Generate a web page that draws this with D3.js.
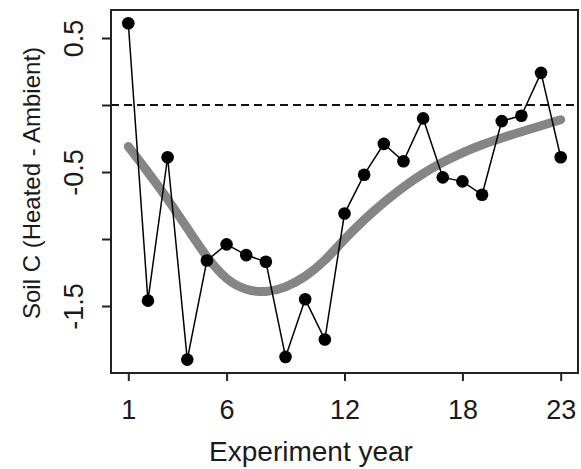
<!DOCTYPE html>
<html>
<head>
<meta charset="utf-8">
<script src="https://cdn.jsdelivr.net/npm/d3@7"></script>
<style>
  html, body { margin: 0; padding: 0; background: #fff; }
  svg { display: block; }
  text { font-family: "Liberation Sans", Arial, Helvetica, sans-serif; fill: #1a1a1a; }
</style>
</head>
<body>
<svg id="chart" width="581" height="469"></svg>
<script>
// ---- data ----
const years = [1,2,3,4,5,6,7,8,9,10,11,12,13,14,15,16,17,18,19,20,21,22,23];
const soilC = [0.61,-1.46,-0.39,-1.90,-1.16,-1.04,-1.12,-1.17,-1.88,-1.45,-1.75,-0.81,-0.52,-0.29,-0.42,-0.10,-0.54,-0.57,-0.67,-0.12,-0.08,0.24,-0.39];
const trend = [-0.31,-0.50,-0.70,-0.92,-1.14,-1.31,-1.385,-1.40,-1.365,-1.285,-1.165,-1.00,-0.855,-0.725,-0.61,-0.51,-0.425,-0.355,-0.295,-0.245,-0.20,-0.155,-0.11];
const xTicks = [1, 6, 12, 18, 23];
const yTicks = [0.5, 0, -0.5, -1, -1.5];
const yTickLabels = ["0.5", "", "-0.5", "", "-1.5"];
const xTitle = "Experiment year";
const yTitle = "Soil C (Heated - Ambient)";

// ---- layout ----
const L = 111, R = 578, T = 10, B = 373;
const svg = d3.select("#chart");
const x = d3.scaleLinear().domain([0.12, 23.88]).range([L, R]);
const y = d3.scaleLinear().domain([-2.0, 0.709]).range([B, T]);

// zero reference line
svg.append("line")
  .attr("x1", L).attr("x2", R)
  .attr("y1", y(0)).attr("y2", y(0))
  .attr("stroke", "#111").attr("stroke-width", 2)
  .attr("stroke-dasharray", "8,5");

// smooth trend (grey)
svg.append("path")
  .datum(years.map((d, i) => [d, trend[i]]))
  .attr("fill", "none")
  .attr("stroke", "#858585")
  .attr("stroke-width", 9)
  .attr("stroke-linecap", "round")
  .attr("d", d3.line().x(d => x(d[0])).y(d => y(d[1])).curve(d3.curveBasis));

// observed series
const obs = years.map((d, i) => [d, soilC[i]]);
svg.append("path")
  .datum(obs)
  .attr("fill", "none")
  .attr("stroke", "#000")
  .attr("stroke-width", 1.5)
  .attr("d", d3.line().x(d => x(d[0])).y(d => y(d[1])));
svg.selectAll("circle.pt").data(obs).enter().append("circle")
  .attr("class", "pt")
  .attr("cx", d => x(d[0])).attr("cy", d => y(d[1]))
  .attr("r", 6.3).attr("fill", "#000");

// axes
const xAxis = d3.axisBottom(x).tickValues(xTicks).tickSize(8).tickSizeOuter(0).tickPadding(8);
const gx = svg.append("g").attr("transform", `translate(0,${B})`).call(xAxis);
gx.select(".domain").remove();
gx.selectAll(".tick line").attr("stroke", "#222").attr("stroke-width", 2);
gx.selectAll(".tick text")
  .attr("y", 46).attr("dy", null)
  .style("font-size", "27px").attr("fill", "#1a1a1a");

const yAxis = d3.axisLeft(y).tickValues(yTicks).tickSize(9).tickSizeOuter(0)
  .tickFormat((d, i) => yTickLabels[i]);
const gy = svg.append("g").attr("transform", `translate(${L},0)`).call(yAxis);
gy.select(".domain").remove();
gy.selectAll(".tick line").attr("stroke", "#222").attr("stroke-width", 2);
gy.selectAll(".tick text")
  .attr("x", null).attr("dy", null)
  .attr("text-anchor", "middle")
  .attr("transform", "translate(-28,0) rotate(-90)")
  .style("font-size", "27px").attr("fill", "#1a1a1a");

// box
svg.append("rect")
  .attr("x", L).attr("y", T).attr("width", R - L).attr("height", B - T)
  .attr("fill", "none").attr("stroke", "#222").attr("stroke-width", 2);

// titles
svg.append("text")
  .attr("x", 311).attr("y", 461)
  .attr("text-anchor", "middle")
  .style("font-size", "28px")
  .text(xTitle);
svg.append("text")
  .attr("transform", "translate(40,183) rotate(-90)")
  .attr("text-anchor", "middle")
  .style("font-size", "24px")
  .text(yTitle);
</script>
</body>
</html>
